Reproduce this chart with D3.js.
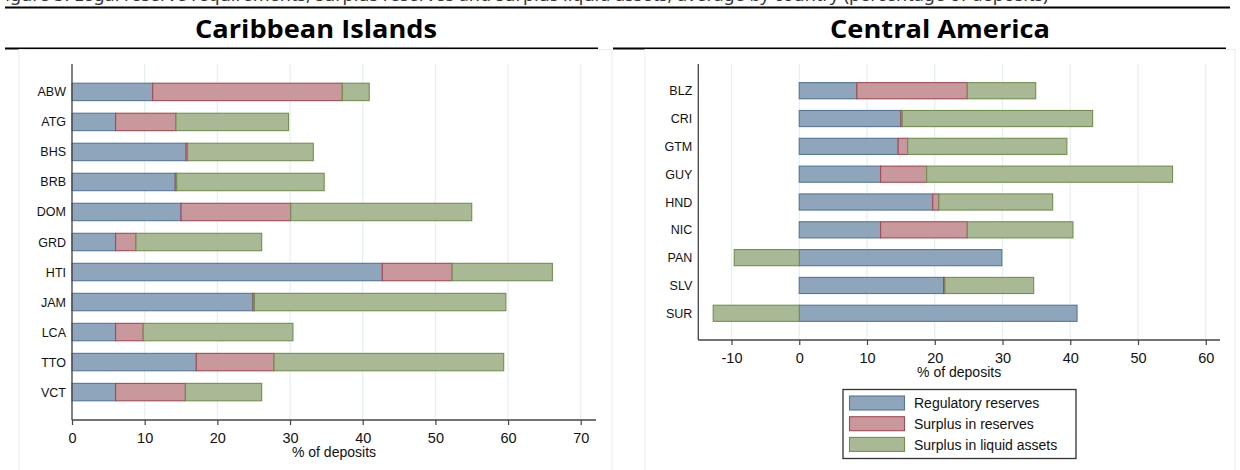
<!DOCTYPE html>
<html>
<head>
<meta charset="utf-8">
<script src="https://cdn.jsdelivr.net/npm/d3@7"></script>
<style>
  body { margin: 0; background: #fff; }
  svg { display: block; }
</style>
</head>
<body>
<svg id="chart" width="1240" height="470"></svg>
<script>
const SERIES = ['Regulatory reserves', 'Surplus in reserves', 'Surplus in liquid assets'];
const FILLS = ['#8ea5bb', '#c9989c', '#aab995'];
const EDGES = ['#55769a', '#a24a55', '#71904f'];

// Caribbean Islands
const caribCats = ['ABW', 'ATG', 'BHS', 'BRB', 'DOM', 'GRD', 'HTI', 'JAM', 'LCA', 'TTO', 'VCT'];
const caribRegulatory = [11.1, 6.0, 15.7, 14.2, 15.0, 6.0, 42.7, 24.9, 6.0, 17.1, 6.0];
const caribSurplusRes = [26.1, 8.3, 0.2, 0.2, 15.1, 2.8, 9.6, 0.2, 3.8, 10.7, 9.6];
const caribSurplusLiq = [3.7, 15.5, 17.3, 20.3, 24.9, 17.3, 13.8, 34.6, 20.6, 31.6, 10.5];
const caribTicks = [0, 10, 20, 30, 40, 50, 60, 70];

// Central America
const centCats = ['BLZ', 'CRI', 'GTM', 'GUY', 'HND', 'NIC', 'PAN', 'SLV', 'SUR'];
const centRegulatory = [8.5, 15.0, 14.6, 12.0, 19.7, 12.0, 29.9, 21.3, 41.0];
const centSurplusRes = [16.3, 0.2, 1.4, 6.8, 0.9, 12.8, 0, 0.2, 0];
const centSurplusLiq = [10.1, 28.1, 23.5, 36.3, 16.8, 15.6, -9.6, 13.1, -12.7];
const centTicks = [-10, 0, 10, 20, 30, 40, 50, 60];

const svg = d3.select('#chart');
const FONT = 'Liberation Sans, Arial, sans-serif';

// caption remnant at the very top (cropped in the source image)
svg.append('text').attr('x', -4).attr('y', 1)
  .attr('font-family', 'Noto Sans, sans-serif').attr('font-size', 18).attr('fill', '#333')
  .text('Figure 3. Legal reserve requirements, surplus reserves and surplus liquid assets, average by country (percentage of deposits)');

svg.append('line').attr('x1', 5).attr('x2', 1230).attr('y1', 7.5).attr('y2', 7.5)
  .attr('stroke', '#000').attr('stroke-width', 2);

function panelHeader(title, cx, w, x1, x2) {
  svg.append('text').attr('x', cx).attr('y', 38).attr('text-anchor', 'middle')
    .attr('font-family', 'Open Sans, Noto Sans, sans-serif').attr('font-weight', 'bold')
    .attr('font-size', 25).attr('fill', '#000')
    .attr('textLength', w).attr('lengthAdjust', 'spacingAndGlyphs').text(title);
  svg.append('line').attr('x1', x1).attr('x2', x2).attr('y1', 48.5).attr('y2', 48.5)
    .attr('stroke', '#000').attr('stroke-width', 2);
}

function drawPanel(cfg) {
  const g = svg.append('g');
  // graph region border
  g.append('rect').attr('x', cfg.region[0]).attr('y', 49.5)
    .attr('width', cfg.region[1] - cfg.region[0]).attr('height', 440)
    .attr('fill', 'none').attr('stroke', '#e4edf0');

  const x = d3.scaleLinear().domain(cfg.domain).range(cfg.xRange);
  const y = d3.scalePoint().domain(cfg.cats).range(cfg.yRange).padding(cfg.pad);
  const bh = y.step() * 0.58;

  // gridlines
  g.append('g').selectAll('line').data(cfg.ticks).join('line')
    .attr('x1', d => x(d)).attr('x2', d => x(d))
    .attr('y1', cfg.yRange[0]).attr('y2', cfg.yRange[1])
    .attr('stroke', '#e6eff1').attr('stroke-width', 1.2);

  const rows = cfg.cats.map((c, i) => ({ cat: c, s0: cfg.vals[0][i], s1: cfg.vals[1][i], s2: cfg.vals[2][i] }));
  const stacked = d3.stack().keys(['s0', 's1', 's2']).offset(d3.stackOffsetDiverging)(rows);

  g.append('g').selectAll('g').data(stacked).join('g')
    .attr('fill', (d, i) => FILLS[i]).attr('stroke', (d, i) => EDGES[i])
    .selectAll('rect').data(d => d.filter(p => p[1] !== p[0])).join('rect')
    .attr('x', d => x(Math.min(d[0], d[1])))
    .attr('width', d => Math.abs(x(d[1]) - x(d[0])))
    .attr('y', d => y(d.data.cat) - bh / 2).attr('height', bh)
    .attr('stroke-width', 1.1);

  // y axis
  g.append('line').attr('x1', cfg.xRange[0]).attr('x2', cfg.xRange[0])
    .attr('y1', cfg.yRange[0]).attr('y2', cfg.yRange[1])
    .attr('stroke', '#444').attr('stroke-width', 1.3);
  g.append('g').selectAll('text').data(cfg.cats).join('text')
    .attr('x', cfg.xRange[0] - 6).attr('y', d => y(d) + 4.5)
    .attr('text-anchor', 'end').attr('font-family', FONT).attr('font-size', 12.5)
    .attr('fill', '#111').text(d => d);

  // x axis
  const ax = g.append('g').attr('transform', `translate(0,${cfg.yRange[1]})`)
    .call(d3.axisBottom(x).tickValues(cfg.ticks).tickFormat(d => String(d))
      .tickSize(5).tickSizeOuter(0));
  ax.select('.domain').attr('stroke', '#444').attr('stroke-width', 1.3)
    .attr('d', `M${cfg.xRange[0]},0H${cfg.xRange[1]}`);
  ax.selectAll('.tick line').attr('stroke', '#444').attr('stroke-width', 1.2);
  ax.selectAll('.tick text').attr('dy', null).attr('y', 23)
    .attr('font-family', FONT).attr('font-size', 14.5).attr('fill', '#111');

  g.append('text').attr('x', (cfg.xRange[0] + cfg.xRange[1]) / 2).attr('y', cfg.yRange[1] + 37)
    .attr('text-anchor', 'middle').attr('font-family', FONT).attr('font-size', 14)
    .attr('fill', '#111').text('% of deposits');
  return g;
}

panelHeader('Caribbean Islands', 316, 242, 5, 598);
panelHeader('Central America', 940, 220, 613, 1226);

drawPanel({
  cats: caribCats, vals: [caribRegulatory, caribSurplusRes, caribSurplusLiq],
  domain: [0, 72.1], xRange: [72, 596], yRange: [64, 420], pad: 0.93,
  ticks: caribTicks, region: [19, 612]
});

drawPanel({
  cats: centCats, vals: [centRegulatory, centSurplusRes, centSurplusLiq],
  domain: [-14.9, 62.1], xRange: [698.3, 1220], yRange: [64, 340], pad: 0.96,
  ticks: centTicks, region: [645, 1235]
});

// legend
const leg = svg.append('g');
leg.append('rect').attr('x', 843).attr('y', 389.5).attr('width', 233).attr('height', 69)
  .attr('fill', '#fff').attr('stroke', '#333').attr('stroke-width', 1.3);
const legRows = leg.selectAll('g').data(SERIES).join('g')
  .attr('transform', (d, i) => `translate(0,${396 + i * 20.7})`);
legRows.append('rect').attr('x', 849.5).attr('y', 0).attr('width', 55).attr('height', 14)
  .attr('fill', (d, i) => FILLS[i]).attr('stroke', (d, i) => EDGES[i]).attr('stroke-width', 1.1);
legRows.append('text').attr('x', 914).attr('y', 12.3)
  .attr('font-family', FONT).attr('font-size', 14).attr('fill', '#111').text(d => d);
</script>
</body>
</html>
